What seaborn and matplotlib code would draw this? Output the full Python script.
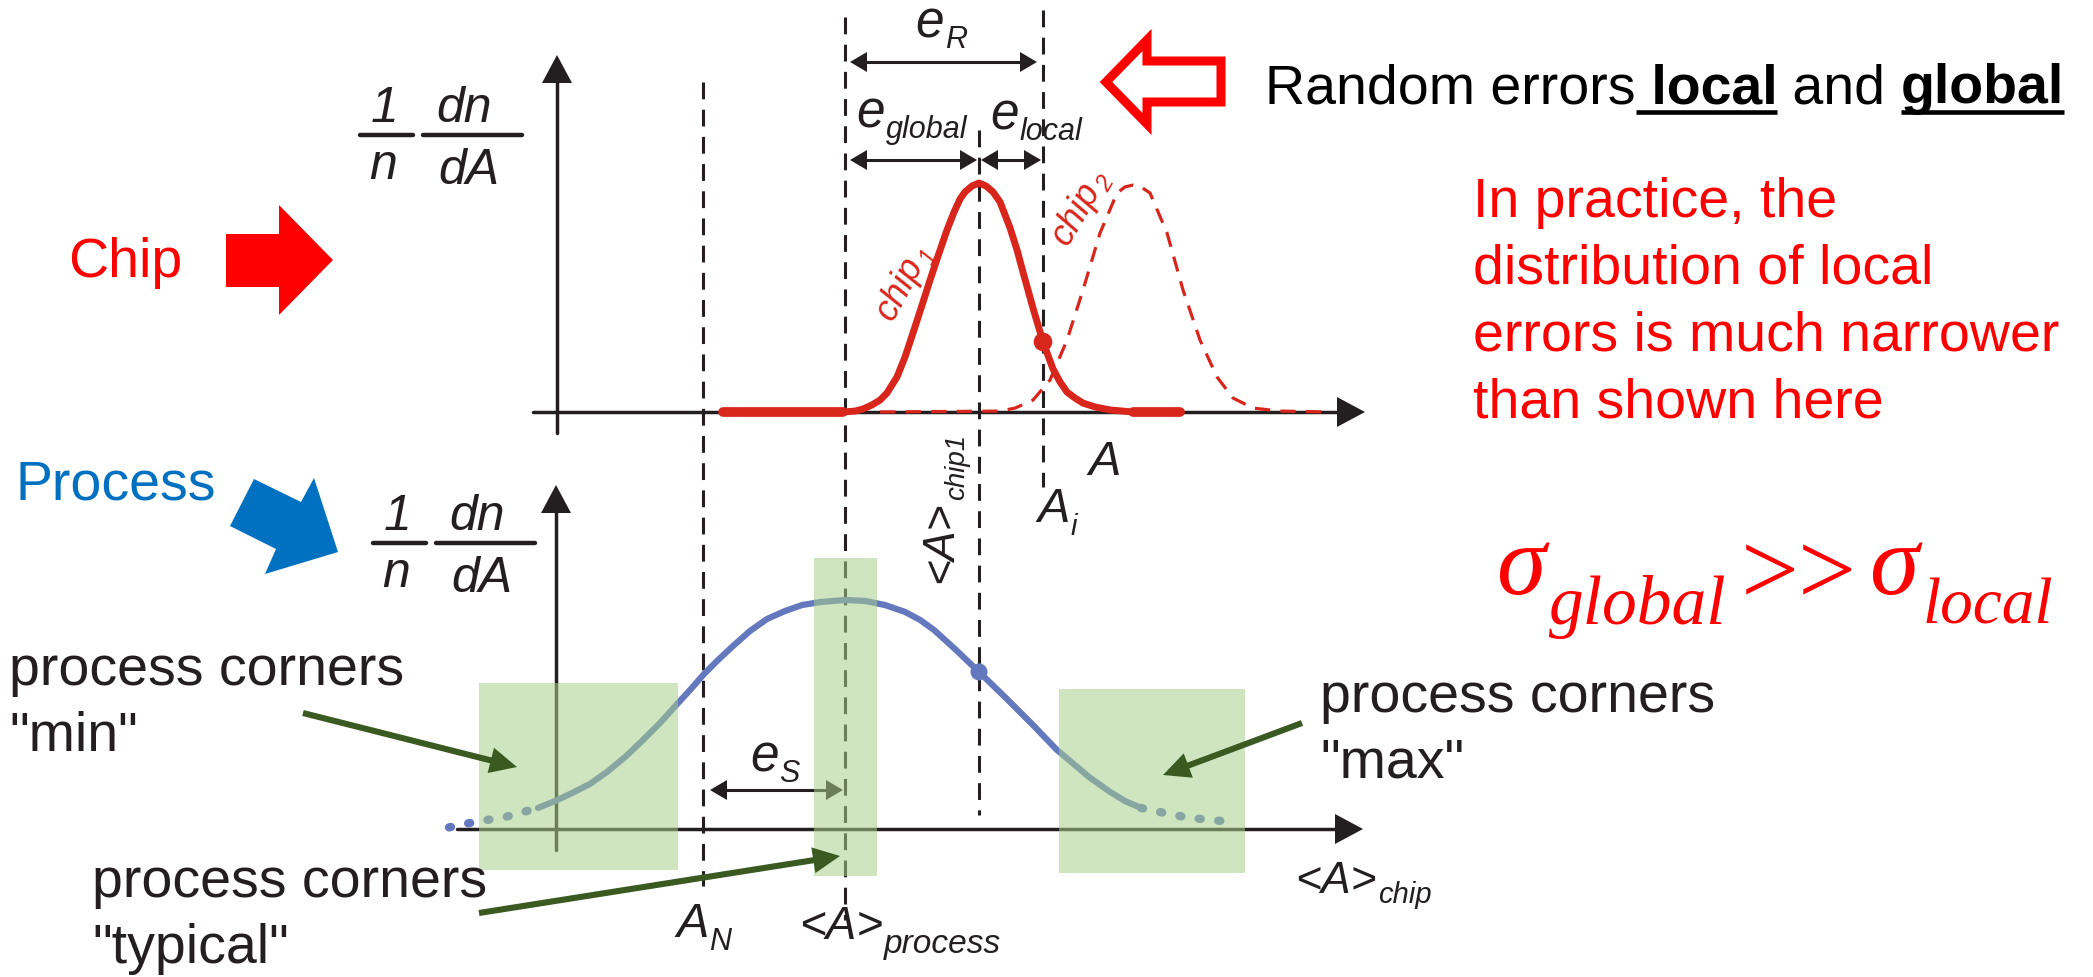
import numpy as np
import pandas as pd
import matplotlib
matplotlib.use("Agg")
import matplotlib.pyplot as plt
import seaborn as sns
from matplotlib.patches import Polygon, Rectangle
from matplotlib import transforms

# ---------------- data ----------------
# A axis in arbitrary units (0 = ordinate), density normalised to peak = 1
chip1_A = [20.75, 35.75, 37.25, 38.25, 39.38, 40.38, 41.25, 42.5, 43.5, 44.5, 45.63, 46.63,
           47.63, 48.75, 49.63, 50.38, 51.0, 51.88, 52.75, 53.63, 54.5, 55.38, 56.63, 57.5,
           58.25, 59.5, 60.75, 62.0, 62.88, 63.75, 64.75, 65.75, 67.25, 69.13, 72.0, 77.88]
chip1_density = [0, 0, 0.004, 0.013, 0.031, 0.052, 0.083, 0.153, 0.24, 0.345, 0.467, 0.576,
                 0.681, 0.795, 0.873, 0.93, 0.961, 0.987, 1.0, 0.987, 0.961, 0.917, 0.804, 0.708,
                 0.611, 0.454, 0.306, 0.188, 0.131, 0.087, 0.061, 0.039, 0.022, 0.009, 0, 0]
chip2_A = [40.38, 55.38, 57.25, 59.5, 61.63, 63.75, 65.75, 67.88, 70.0, 71.0, 72.0, 73.0, 74.13,
           76.25, 78.25, 80.38, 82.5, 84.5, 87.0, 90.38, 96.63]
chip2_density = [0, 0.004, 0.017, 0.052, 0.14, 0.314, 0.533, 0.782, 0.956, 0.983, 0.991, 0.983,
                 0.956, 0.782, 0.533, 0.314, 0.153, 0.061, 0.017, 0.004, 0]
process_A = [-2.38, -0.25, 1.88, 4.13, 6.25, 8.5, 10.5, 12.88, 15.13, 16.63, 18.38, 20.13, 22.0,
             24.13, 26.25, 28.5, 30.63, 32.88, 36.0, 38.5, 41.0, 43.5, 45.38, 47.13, 49.75,
             52.75, 56.38, 59.5, 62.5, 64.75, 66.5, 69.13, 71.0, 73.0]
process_density = [0.092, 0.122, 0.157, 0.197, 0.249, 0.314, 0.38, 0.463, 0.55, 0.607, 0.677,
                   0.738, 0.799, 0.865, 0.917, 0.952, 0.978, 0.991, 1.0, 0.996, 0.978, 0.948,
                   0.913, 0.869, 0.786, 0.686, 0.563, 0.454, 0.345, 0.279, 0.227, 0.162, 0.122,
                   0.092]
tail_left_A = [-13.5, -10.25, -6.5, -2.38]
tail_left_density = [0.007, 0.031, 0.052, 0.092]
tail_right_A = [73.0, 75.38, 78.5, 81.63, 84.75]
tail_right_density = [0.092, 0.074, 0.052, 0.039, 0.031]
marker_labels = ["A_N", "<A>_process", "<A>_chip1", "A_i"]
marker_A = [18.25, 36.0, 52.75, 60.75]
chip1_at_Ai = 0.306
process_at_chip1 = 0.686

# ---------------- style ----------------
sns.set_theme(style="white")
SANS = "Liberation Sans"
SERIF = "Liberation Serif"
plt.rcParams["font.family"] = [SANS, "DejaVu Sans"]
K = "#231f20"
RED_CURVE = "#d9261c"
RED = "#ff0000"
BLUE = "#6478be"
PBLUE = "#0070c0"
GREEN = "#3a5a22"
RECT = "#a6cf8a"

W, H = 2093, 977
fig = plt.figure(figsize=(W / 100, H / 100), dpi=100)
R = fig.canvas.get_renderer()

ax_base = fig.add_axes([0, 0, 1, 1], zorder=0)
ax_top = fig.add_axes([557 / W, (H - 412) / H, 800 / W, 229 / H], zorder=1)
ax_bot = fig.add_axes([557 / W, (H - 829) / H, 800 / W, 229 / H], zorder=1)
ax_over = fig.add_axes([0, 0, 1, 1], zorder=2)
for a in (ax_base, ax_over):
    a.set_xlim(0, W)
    a.set_ylim(H, 0)
    a.set_autoscale_on(False)
    a.set_axis_off()

# ---------------- curves ----------------
sns.lineplot(x=chip1_A, y=chip1_density, ax=ax_top, color=RED_CURVE, lw=5.0,
             estimator=None, sort=False, clip_on=False, solid_capstyle="round",
             solid_joinstyle="round")
sns.lineplot(x=chip1_A[:2], y=chip1_density[:2], ax=ax_top, color=RED_CURVE, lw=7,
             estimator=None, sort=False, clip_on=False, solid_capstyle="round")
sns.lineplot(x=chip1_A[-2:], y=chip1_density[-2:], ax=ax_top, color=RED_CURVE, lw=7,
             estimator=None, sort=False, clip_on=False, solid_capstyle="round")
sns.lineplot(x=chip2_A, y=chip2_density, ax=ax_top, color=RED_CURVE, lw=2.3,
             linestyle=(0, (4.8, 3.2)), estimator=None, sort=False, clip_on=False)
sns.scatterplot(x=[marker_A[3]], y=[chip1_at_Ai], ax=ax_top, color=RED_CURVE, s=180,
                edgecolor="none", clip_on=False, zorder=5)

sns.lineplot(x=process_A, y=process_density, ax=ax_bot, color=BLUE, lw=4.5,
             estimator=None, sort=False, clip_on=False, solid_joinstyle="round")
for ta, td in ((tail_left_A, tail_left_density), (tail_right_A, tail_right_density)):
    sns.lineplot(x=ta, y=td, ax=ax_bot, color=BLUE, lw=6, linestyle=(0, (0.25, 2.1)),
                 dash_capstyle="round", estimator=None, sort=False, clip_on=False)
sns.scatterplot(x=[marker_A[2]], y=[process_at_chip1], ax=ax_bot, color=BLUE, s=150,
                edgecolor="none", clip_on=False, zorder=5)

for a in (ax_top, ax_bot):
    a.set_xlim(0, 100)
    a.set_ylim(0, 1)
    a.set_axis_off()


# ---------------- helpers ----------------
def tri(ax, tip, direction, length, halfw, color, z=3):
    tip = np.asarray(tip, float)
    d = np.asarray(direction, float)
    d = d / np.linalg.norm(d)
    n = np.array([-d[1], d[0]])
    base = tip - d * length
    ax.add_patch(Polygon([tip, base + n * halfw, base - n * halfw], closed=True,
                         fc=color, ec="none", zorder=z))


def arrow(ax, p0, p1, color=K, lw=2.2, hl=17, hw=10, both=False, z=3):
    p0 = np.asarray(p0, float)
    p1 = np.asarray(p1, float)
    d = (p1 - p0) / np.linalg.norm(p1 - p0)
    s = p0 + d * hl * 0.7 if both else p0
    e = p1 - d * hl * 0.7
    ax.plot([s[0], e[0]], [s[1], e[1]], color=color, lw=lw, solid_capstyle="butt", zorder=z)
    tri(ax, p1, d, hl, hw, color, z)
    if both:
        tri(ax, p0, -d, hl, hw, color, z)


def txt(ax, x, y, s, size, color=K, style="normal", weight="normal", ha="left",
        family=SANS, rot=0, z=6):
    return ax.text(x, y, s, fontsize=size, color=color, style=style, weight=weight,
                   ha=ha, va="baseline", rotation=rot, rotation_mode="anchor",
                   family=[family, "DejaVu Sans"], zorder=z)


def width(t):
    return t.get_window_extent(renderer=R).width


def sublabel(ax, x, y, main, sub, size, subsize, drop, color=K, rot=0, gap=1,
             family=SANS, style="italic"):
    t = txt(ax, x, y, main, size, color, style, family=family)
    w = width(t)
    t.set_rotation(rot)
    th = np.deg2rad(rot)
    sx = x + (w + gap) * np.cos(th) + drop * np.sin(th)
    sy = y - (w + gap) * np.sin(th) + drop * np.cos(th)
    txt(ax, sx, sy, sub, subsize, color, style, family=family, rot=rot)


# ---------------- axes with arrows ----------------
AX_LW = 2.5
ax_base.plot([557, 557], [433, 80], color=K, lw=AX_LW, zorder=2)
tri(ax_base, (557, 55), (0, -1), 28, 15, K)
ax_base.plot([533, 1340], [412, 412], color=K, lw=AX_LW, zorder=2)
tri(ax_base, (1365, 412), (1, 0), 28, 15, K)
ax_base.plot([556, 556], [850, 510], color=K, lw=AX_LW, zorder=2)
tri(ax_base, (556, 485), (0, -1), 28, 15, K)
ax_base.plot([457, 1338], [829, 829], color=K, lw=AX_LW, zorder=2)
tri(ax_base, (1363, 829), (1, 0), 28, 15, K)

# dashed reference lines (x from data, vertical extent in figure pixels)
blend = transforms.blended_transform_factory(ax_top.transData, ax_base.transData)
extents = [(82, 886), (17, 920), (130, 815), (10, 487)]
for a_val, (y0, y1) in zip(marker_A, extents):
    ax_base.plot([a_val, a_val], [y0, y1], transform=blend, color=K, lw=2.2,
                 linestyle=(0, (5.5, 3.4)), zorder=2)

# double arrows
arrow(ax_base, (850, 62), (1037, 62), both=True)
arrow(ax_base, (850, 160), (977, 160), both=True)
arrow(ax_base, (981, 160), (1041, 160), both=True)
arrow(ax_base, (710, 790), (843, 790), both=True)

# ---------------- overlay: rectangles, green arrows, shapes ----------------
for (x0, y0, x1, y1) in [(479, 683, 678, 870), (814, 558, 877, 876), (1059, 689, 1245, 873)]:
    ax_over.add_patch(Rectangle((x0, y0), x1 - x0, y1 - y0, fc=RECT, ec="none",
                                alpha=0.54, zorder=1))
arrow(ax_over, (303, 713), (517, 767), color=GREEN, lw=4.4, hl=27, hw=13, z=3)
arrow(ax_over, (479, 913), (840, 856), color=GREEN, lw=4.4, hl=27, hw=13, z=3)
arrow(ax_over, (1302, 723), (1163, 775), color=GREEN, lw=4.4, hl=27, hw=13, z=3)

# red outline arrow
ax_over.add_patch(Polygon([(1106, 82), (1147, 40), (1147, 61), (1221, 61), (1221, 102),
                           (1147, 102), (1147, 124)], closed=True, fc="white", ec=RED,
                          lw=6.5, joinstyle="miter", zorder=3))
# Chip arrow
ax_over.add_patch(Polygon([(226, 234), (279, 234), (279, 205), (333, 260), (279, 315),
                           (279, 287), (226, 287)], closed=True, fc=RED, ec="none", zorder=3))
# Process arrow
ax_over.add_patch(Polygon([(254, 479), (301, 502), (314, 478), (338, 552), (265, 574),
                           (276, 549), (230, 526)], closed=True, fc=PBLUE, ec="none", zorder=3))

# ---------------- texts ----------------
txt(ax_over, 68, 277, "Chip", 40, RED)
txt(ax_over, 15, 499, "Process", 40, PBLUE)

# 1/n dn/dA labels
for dx, dy in ((0, 0), (13, 408)):
    txt(ax_over, 385 + dx, 122 + dy, "1", 36, style="italic", ha="center")
    txt(ax_over, 383 + dx, 179 + dy, "n", 36, style="italic", ha="center")
    txt(ax_over, 464 + dx, 122 + dy, "dn", 36, style="italic", ha="center")
    txt(ax_over, 469 + dx, 184 + dy, "dA", 36, style="italic", ha="center")
    ax_over.plot([360 + dx, 413 + dx], [135 + dy, 135 + dy], color=K, lw=3.2, zorder=6)
    ax_over.plot([423 + dx, 522 + dx], [135 + dy, 135 + dy], color=K, lw=3.2, zorder=6)

# e labels
sublabel(ax_over, 915, 38, "e", "R", 37, 22, 10)
sublabel(ax_over, 856, 128, "e", "global", 37, 22, 10)
sublabel(ax_over, 990, 130, "e", "local", 37, 22, 10)
sublabel(ax_over, 750, 772, "e", "S", 37, 22, 10)

# axis / marker labels
txt(ax_over, 1088, 475, "A", 35, style="italic")
sublabel(ax_over, 1037, 522, "A", "i", 35, 21, 13)
sublabel(ax_over, 676, 937, "A", "N", 35, 22, 13)
sublabel(ax_over, 799, 939, "<A>", "process", 33, 24, 14)
sublabel(ax_over, 1295, 893, "<A>", "chip", 32, 21, 10)
sublabel(ax_over, 952, 583, "<A>", "chip1", 32, 20, 12, rot=90)
sublabel(ax_over, 893, 322, "chip", "1", 26, 17, 8, color=RED_CURVE, rot=62)
sublabel(ax_over, 1068, 247, "chip", "2", 26, 17, 8, color=RED_CURVE, rot=60)

# process corner labels
for x, y, word in ((9, 685, '"min"'), (92, 897, '"typical"'), (1320, 712, '"max"')):
    txt(ax_over, x, y, "process corners", 40)
    txt(ax_over, x, y + 66, word, 40)

# Random errors line
x = 1265
sp = 0.278 * 40 * 100 / 72
for s, bold, ul, pad in (("Random errors", False, False, 0), (" local", True, True, 0),
                         (" and", False, False, sp), ("global", True, True, 0)):
    t = txt(ax_over, x, 103, s, 40, color="black", weight="bold" if bold else "normal")
    w = width(t)
    if ul:
        ax_over.plot([x, x + w], [112, 112], color="black", lw=3.3,
                     solid_capstyle="butt", zorder=6)
    x += w + pad

# red note
for i, line in enumerate(["In practice, the", "distribution of local",
                          "errors is much narrower", "than shown here"]):
    txt(ax_over, 1473, 217 + i * 66.7, line, 40, RED)

# sigma relation
x = 1496
for s, size, style, base, gap in (("σ", 72, "italic", 594, 4), ("global", 50, "italic", 624, 14),
                                  (">>", 74, "normal", 604, 12), ("σ", 72, "italic", 594, 4),
                                  ("local", 47, "italic", 624, 0)):
    t = txt(ax_over, x, base, s, size, RED, style, family=SERIF)
    x += width(t) + gap

fig.savefig("out.png", dpi=100)
